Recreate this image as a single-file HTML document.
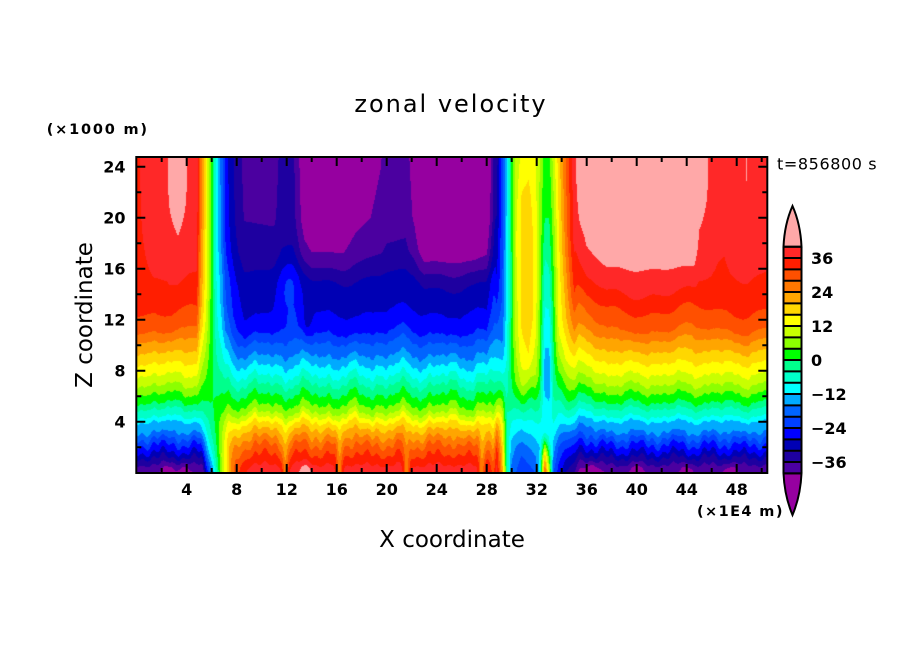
<!DOCTYPE html>
<html><head><meta charset="utf-8">
<style>
html,body{margin:0;padding:0;background:#fff;width:904px;height:654px;overflow:hidden;}
#c{position:absolute;left:136px;top:157px;}
svg{position:absolute;left:0;top:0;}
</style></head><body>
<canvas id="c" width="632" height="316"></canvas>
<svg width="904" height="654" viewBox="0 0 904 654" xmlns="http://www.w3.org/2000/svg">
<g fill="none" stroke="#000" stroke-width="2">
<rect x="136.3" y="157" width="631" height="316"/>
<path d="M186.7 473v-9M236.7 473v-9M286.7 473v-9M336.7 473v-9M386.7 473v-9M436.7 473v-9M486.7 473v-9M536.7 473v-9M586.7 473v-9M636.7 473v-9M686.7 473v-9M736.7 473v-9"/>
<path d="M186.7 157v9M236.7 157v9M286.7 157v9M336.7 157v9M386.7 157v9M436.7 157v9M486.7 157v9M536.7 157v9M586.7 157v9M636.7 157v9M686.7 157v9M736.7 157v9"/>
<path d="M161.7 473v-5M211.7 473v-5M261.7 473v-5M311.7 473v-5M361.7 473v-5M411.7 473v-5M461.7 473v-5M511.7 473v-5M561.7 473v-5M611.7 473v-5M661.7 473v-5M711.7 473v-5M761.7 473v-5"/>
<path d="M161.7 157v5M211.7 157v5M261.7 157v5M311.7 157v5M361.7 157v5M411.7 157v5M461.7 157v5M511.7 157v5M561.7 157v5M611.7 157v5M661.7 157v5M711.7 157v5M761.7 157v5"/>
<path d="M136.3 421.7h9M136.3 370.7h9M136.3 319.7h9M136.3 268.7h9M136.3 217.7h9M136.3 166.7h9"/>
<path d="M767.3 421.7h-9M767.3 370.7h-9M767.3 319.7h-9M767.3 268.7h-9M767.3 217.7h-9M767.3 166.7h-9"/>
<path d="M136.3 447.2h5M136.3 396.2h5M136.3 345.2h5M136.3 294.2h5M136.3 243.2h5M136.3 192.2h5"/>
<path d="M767.3 447.2h-5M767.3 396.2h-5M767.3 345.2h-5M767.3 294.2h-5M767.3 243.2h-5M767.3 192.2h-5"/>
</g>
<!-- colorbar -->
<g stroke="none">
<rect x="783.5" y="246.7" width="18" height="11.33" fill="#FF2828"/>
<rect x="783.5" y="258.03" width="18" height="11.33" fill="#FF1E00"/>
<rect x="783.5" y="269.37" width="18" height="11.33" fill="#FF5000"/>
<rect x="783.5" y="280.7" width="18" height="11.33" fill="#FF7800"/>
<rect x="783.5" y="292.03" width="18" height="11.33" fill="#FFA500"/>
<rect x="783.5" y="303.37" width="18" height="11.33" fill="#FFD700"/>
<rect x="783.5" y="314.7" width="18" height="11.33" fill="#FFFF00"/>
<rect x="783.5" y="326.03" width="18" height="11.33" fill="#C8FF00"/>
<rect x="783.5" y="337.37" width="18" height="11.33" fill="#8CFF00"/>
<rect x="783.5" y="348.7" width="18" height="11.33" fill="#00FF00"/>
<rect x="783.5" y="360.03" width="18" height="11.33" fill="#00FF8C"/>
<rect x="783.5" y="371.37" width="18" height="11.33" fill="#00FFC8"/>
<rect x="783.5" y="382.7" width="18" height="11.33" fill="#00FFFF"/>
<rect x="783.5" y="394.03" width="18" height="11.33" fill="#00AAFF"/>
<rect x="783.5" y="405.37" width="18" height="11.33" fill="#0064FF"/>
<rect x="783.5" y="416.7" width="18" height="11.33" fill="#0040FF"/>
<rect x="783.5" y="428.03" width="18" height="11.33" fill="#0000FF"/>
<rect x="783.5" y="439.37" width="18" height="11.33" fill="#0000B4"/>
<rect x="783.5" y="450.7" width="18" height="11.33" fill="#1E00A0"/>
<rect x="783.5" y="462.03" width="18" height="11.33" fill="#4B00A0"/>
</g>
<path d="M783.5 246.7Q784.5 224 792.5 206Q800.5 224 801.5 246.7Z" fill="#FFA8A8" stroke="#000" stroke-width="2"/>
<path d="M783.5 473.37Q784.5 496 792.5 515Q800.5 496 801.5 473.37Z" fill="#9600A0" stroke="#000" stroke-width="2"/>
<path fill="none" stroke="#000" stroke-width="2" d="M783.5 246.7V473.37M801.5 246.7V473.37M783.5 246.7h18M783.5 258.03h18M783.5 269.37h18M783.5 280.7h18M783.5 292.03h18M783.5 303.37h18M783.5 314.7h18M783.5 326.03h18M783.5 337.37h18M783.5 348.7h18M783.5 360.03h18M783.5 371.37h18M783.5 382.7h18M783.5 394.03h18M783.5 405.37h18M783.5 416.7h18M783.5 428.03h18M783.5 439.37h18M783.5 450.7h18M783.5 462.03h18M783.5 473.37h18"/>
<g font-family="'DejaVu Sans', 'Liberation Sans', sans-serif" font-size="16" font-weight="bold" fill="#000">
<text x="811" y="264">36</text>
<text x="811" y="298">24</text>
<text x="811" y="332">12</text>
<text x="811" y="366">0</text>
<text x="811" y="400">−12</text>
<text x="811" y="434">−24</text>
<text x="811" y="468">−36</text>
</g>
<!-- tick labels -->
<g font-family="'DejaVu Sans', 'Liberation Sans', sans-serif" font-size="16" font-weight="bold" fill="#000" text-anchor="middle">
<text x="186.7" y="495">4</text>
<text x="236.7" y="495">8</text>
<text x="286.7" y="495">12</text>
<text x="336.7" y="495">16</text>
<text x="386.7" y="495">20</text>
<text x="436.7" y="495">24</text>
<text x="486.7" y="495">28</text>
<text x="536.7" y="495">32</text>
<text x="586.7" y="495">36</text>
<text x="636.7" y="495">40</text>
<text x="686.7" y="495">44</text>
<text x="736.7" y="495">48</text>
</g>
<g font-family="'DejaVu Sans', 'Liberation Sans', sans-serif" font-size="16" font-weight="bold" fill="#000" text-anchor="end">
<text x="125.5" y="427.7">4</text>
<text x="125.5" y="376.7">8</text>
<text x="125.5" y="325.7">12</text>
<text x="125.5" y="274.7">16</text>
<text x="125.5" y="223.7">20</text>
<text x="125.5" y="172.7">24</text>
</g>
<g font-family="'DejaVu Sans', 'Liberation Sans', sans-serif" fill="#000">
<text x="451" y="112" font-size="24" text-anchor="middle" letter-spacing="2">zonal velocity</text>
<text x="452" y="547" font-size="23" text-anchor="middle">X coordinate</text>
<text transform="translate(92,315) rotate(-90)" font-size="23" text-anchor="middle">Z coordinate</text>
<text x="46.7" y="134" font-size="14.5" font-weight="bold" letter-spacing="1.8">(×1000 m)</text>
<text x="697" y="516" font-size="14.5" font-weight="bold" letter-spacing="1.4">(×1E4 m)</text>
<text x="777" y="169.5" font-size="16" letter-spacing="0.6">t=856800 s</text>
</g>
</svg>
<script>
(function(){
function lin(t,x){if(x<=t[0][0])return t[0][1];for(var i=1;i<t.length;i++){if(x<=t[i][0]){var a=t[i-1],b=t[i];return a[1]+(b[1]-a[1])*(x-a[0])/(b[0]-a[0]);}}return t[t.length-1][1];}
function g(x,c,w){var q=(x-c)/w;return Math.exp(-q*q);}
function cl(v,a,b){return v<a?a:(v>b?b:v);}
var S=[[0,1],[4.8,1],[5.07,0.7],[5.6,0.35],[6.0,0.05],[6.4,-0.26],[6.8,-0.47],[7.1,-0.68],[7.47,-0.8],[8,-0.92],[8.6,-1],[28.0,-1],[28.4,-0.85],[28.8,-0.72],[29.1,-0.55],[29.5,-0.35],[29.8,-0.22],[30.0,-0.09],[30.2,0.05],[30.4,0.19],[30.6,0.3],[31.0,0.42],[31.4,0.43],[31.8,0.33],[32.0,0.2],[32.2,0.1],[32.35,0.04],[33.1,0.04],[33.3,0.2],[33.55,0.42],[33.8,0.6],[34.2,0.7],[34.5,0.8],[34.8,0.88],[35.2,0.95],[36,1],[51,1]];
var AT=[[0,35],[1.3,39.5],[2.4,39.7],[2.6,40.3],[3.3,41.3],[3.9,40.3],[4.2,39.6],[5,39],[6,40],[7,38],[7.5,37],[8,37],[11,37.5],[11.6,35],[12.5,35],[13.0,40],[13.4,44],[14,46],[16.5,46],[17.5,43],[18.5,41.6],[19.5,40.3],[20,39],[21.5,38.5],[22.2,42],[23,50],[27,50],[28,47],[28.4,46],[29,43],[34,43],[34.8,44],[35.2,45],[44.6,45],[45.0,41],[45.6,40.2],[46,39.5],[46.5,38],[47,37.5],[47.5,39],[48.5,39.8],[48.8,40.05],[49.1,39.8],[50.3,39],[50.6,35]];
var BE=[[0,-39.5],[0.37,-37.5],[0.75,-35],[1.15,-32],[1.6,-28],[2.2,-24],[2.7,-20],[3.2,-16],[4.0,-12],[4.4,-8],[5.0,-4],[5.5,0],[6.2,4],[6.9,8],[7.7,12],[8.6,16],[9.5,20],[10.4,24],[11.2,28],[12.7,32]];
var BC=[[0,-38],[0.6,-36],[1.4,-32],[2.2,-28],[2.8,-24],[3.4,-20],[3.9,-16],[4.3,-12],[4.7,-8],[5.3,-4],[6.1,0],[6.9,4],[7.6,8],[8.4,12],[9.2,16],[10.2,20],[11,24],[12.6,28]];
var SC=[[0,0],[0.195,0.22],[0.276,0.44],[0.382,0.67],[0.6,0.9],[1,1]];
var DC=[
[28.8,[[0,38],[1.7,34],[2.4,30],[3.2,26],[4.0,20],[4.8,12],[5.8,4],[6.4,0],[7.2,-4],[8,-8],[9,-12],[10.5,-16],[11.6,-20],[13.2,-24],[15.3,-28],[20,-32],[24.9,-34]]],
[29.25,[[0,22],[2,18],[4,12],[5.5,4],[6.5,-2],[8,-10],[10,-16],[14,-20],[24.9,-22]]],
[29.6,[[0,-2],[3,-4],[6,-4],[9,-8],[14,-11],[24.9,-12]]],
[30.0,[[0,-18],[2,-14],[4,-8],[5.5,-2],[8,1],[15,0],[24.9,2]]],
[30.35,[[0,-20],[2,-16],[4,-8],[5.6,0],[7,5],[10,9],[18,12],[24.9,9]]],
[30.8,[[0,-24],[2,-18],[4,-10],[5.6,0],[7,8],[9,14],[12,17],[21,17],[24.9,13]]],
[31.35,[[0,-22],[2,-16],[4,-8],[5.6,0],[6.3,4],[7.1,8],[8,12],[9.3,16],[12,19],[18,19.5],[22,17],[24.9,14]]],
[31.9,[[0,-20],[2,-14],[4,-8],[5.8,0],[8,9],[12,14],[20,14],[24.9,12]]],
[32.25,[[0,-10],[2,-12],[4,-8],[6,-2],[8,3],[14,6],[24.9,8]]],
[32.65,[[0,30],[1.2,20],[2.2,4],[3,-8],[4.5,-10],[7,-14],[9,-13],[12,-9],[16,-5],[20,0],[24.9,2]]],
[33.0,[[0,10],[1.5,0],[2.5,-8],[4,-10],[7,-14],[9,-13],[12,-9],[16,-4],[20,0],[24.9,3]]],
[33.35,[[0,-20],[2,-14],[4,-8],[6,-4],[10,0],[16,4],[24.9,10]]],
[33.75,[[0,-26],[2,-20],[3.5,-12],[5,-6],[6.5,0],[8.5,6],[11,12],[18,15],[24.9,18]]],
[34.3,[[0,-32],[1.5,-26],[3,-18],[4.2,-10],[5.5,-2],[7,4],[9,12],[12,19],[18,25],[24.9,28]]],
[35.0,[[0,-36],[1.2,-30],[2.5,-22],[4,-10],[5.5,0],[7,8],[9,16],[11,24],[14,32],[18,37],[24.9,39]]]
];
function tabD(X,Z){
 for(var i=1;i<DC.length;i++){if(X<=DC[i][0]){var a=DC[i-1],b=DC[i];var f=(X-a[0])/(b[0]-a[0]);return lin(a[1],Z)*(1-f)+lin(b[1],Z)*f;}}
 return lin(DC[DC.length-1][1],Z);
}
function model(X,Z){
 var inC=(X>7&&X<29.5)?1:0.6;
 var wob=inC*(0.3*Math.sin(1.7*X+0.3)+0.22*Math.sin(3.1*X+1.2)+0.13*Math.sin(6.3*X+2.1)+0.1*Math.sin(11.7*X+0.5))*g(Z,7,4.5);
 var wob2=(0.45*Math.sin(0.8*X+0.5)+0.25*Math.sin(2.2*X+2.0))*g(Z,13,3);
 var wob3=(0.3*Math.sin(2.3*X)+0.2*Math.sin(7.7*X+1))*g(Z,2,1.5);
 var Ze=Z+wob+wob2+wob3;
 var Xs=X; if(X<10)Xs=X-0.5*cl((6-Z)/6,0,1);
 var s=lin(S,Xs),A=lin(AT,X),bE,bC,t;
 if(Ze<=12.7)bE=lin(BE,Ze);else{t=cl((Ze-12.7)/12.2,0,1);bE=32+(A-32)*(1-Math.pow(1-t,3));}
 if(Ze<=12.6)bC=lin(BC,Ze);else{t=cl((Ze-12.6)/12.3,0,1);bC=28+(A-28)*lin(SC,t);}
 var wE;
 if(Xs<5.8)wE=1;else if(Xs<6.8)wE=1-(Xs-5.8);else if(X<29.8)wE=0;else if(X<30.4)wE=(X-29.8)/0.6;else wE=1;
 var u=s*(wE*bE+(1-wE)*bC);
 u+=6*g(X,12.2,0.9)*g(Z,14.5,2.5);
 u-=4*g(X,13.6,0.5)*g(Z,11.5,1.5);
 var sp=[11.9,16.2,21.6,27.6];
 for(var k=0;k<sp.length;k++)u-=12*g(X,sp[k],0.25)*cl((4.5-Z)/4.5,0,1);
 u+=6*g(X,13.5,0.5)*g(Z,0,0.8);
 if(X>34.8)u-=3.5*cl((37.6-X)/2.4,0,1)*cl((23.5-Z)/5,0,1);
 var ps=[2.5,3.8,36.5,40,44,47.5];
 for(var m=0;m<ps.length;m++)u-=4*g(X,ps[m],0.5)*g(Z,0.2,0.6);
 return u;
}
function field(X,Z){
 if(X<28.5||X>35.4)return model(X,Z);
 var Zd=Z+0.25*Math.sin(5.3*X+1.1)*g(Z,6,3);
 var ut=tabD(cl(X,28.8,35.0),Zd);
 var w=1;
 if(X<28.8)w=(X-28.5)/0.3;else if(X>35.0)w=1-(X-35.0)/0.4;
 if(w>=1)return ut;
 return w*ut+(1-w)*model(X,Z);
}
function hex(h){return [parseInt(h.substr(1,2),16),parseInt(h.substr(3,2),16),parseInt(h.substr(5,2),16)];}
var cols=['#4B00A0','#1E00A0','#0000B4','#0000FF','#0040FF','#0064FF','#00AAFF','#00FFFF','#00FFC8','#00FF8C','#00FF00','#8CFF00','#C8FF00','#FFFF00','#FFD700','#FFA500','#FF7800','#FF5000','#FF1E00','#FF2828'];
var pal=cols.map(hex),under=hex('#9600A0'),over=hex('#FFA8A8');
var cv=document.getElementById('c'),ctx=cv.getContext('2d');
var W=632,H=316,img=ctx.createImageData(W,H),d=img.data;
for(var j=0;j<H;j++){var py=157+j+0.5,Z=(472.7-py)/12.75;
 for(var i=0;i<W;i++){var px=136+i+0.5,X=(px-136.7)/12.5;
  var u=field(X,Z),c;
  if(u<-40)c=under;else if(u>=40)c=over;else c=pal[Math.floor((u+40)/4)];
  var q=(j*W+i)*4;d[q]=c[0];d[q+1]=c[1];d[q+2]=c[2];d[q+3]=255;}}
ctx.putImageData(img,0,0);
})();
</script>
</body></html>
